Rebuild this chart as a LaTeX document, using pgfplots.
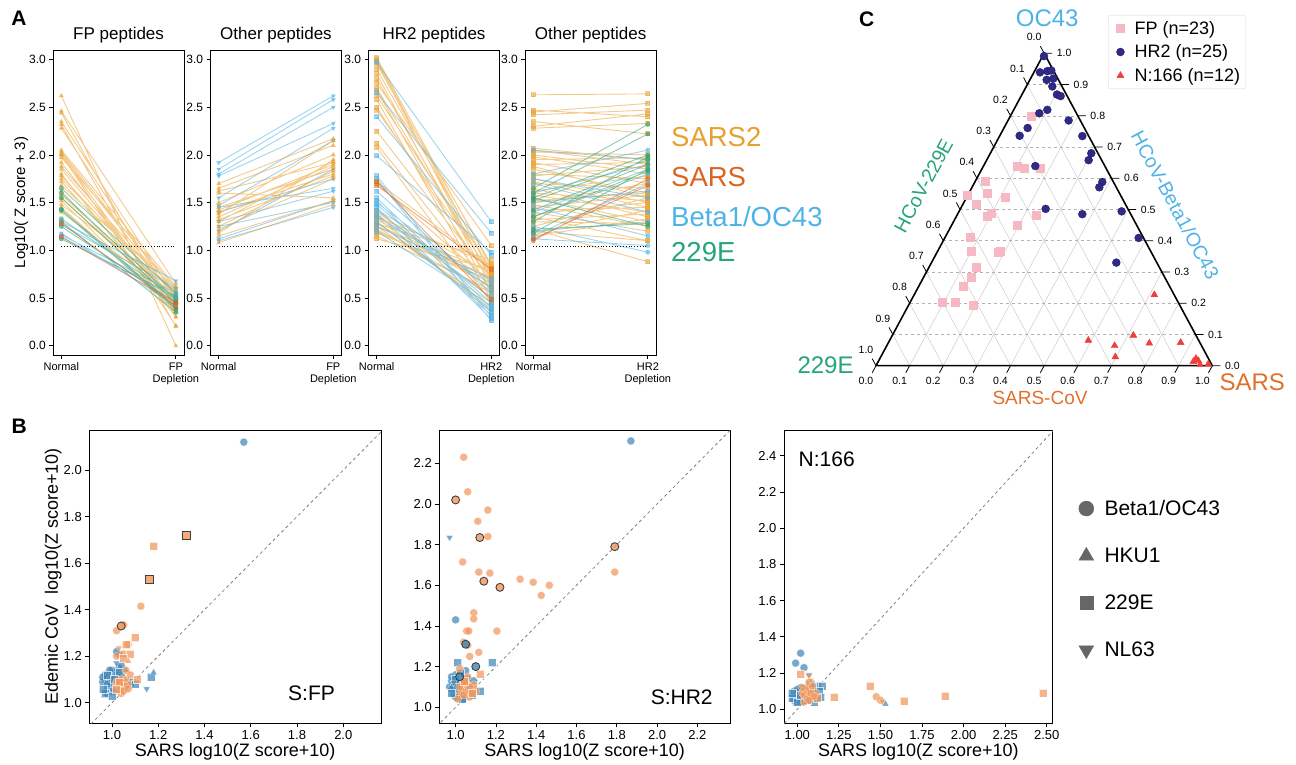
\documentclass[border=0pt]{standalone}
\usepackage{fontspec}
\setmainfont{Liberation Sans}
\usepackage{pgfplots}
\pgfplotsset{compat=1.18}
\newcommand{\fsz}[2]{\fontsize{#1}{#2}\selectfont}

\definecolor{cS2}{HTML}{E8A030}
\definecolor{cS}{HTML}{DA6420}
\definecolor{cB}{HTML}{4DB3E6}
\definecolor{cE}{HTML}{26A47A}
\definecolor{bb}{HTML}{3F86B8}
\definecolor{bo}{HTML}{F0965A}
\definecolor{fpk}{HTML}{F6B8C3}
\definecolor{hnv}{HTML}{2F2A8A}
\definecolor{ntr}{HTML}{EE3E3A}
\definecolor{cSt}{HTML}{E0702A}

\pgfplotsset{
  every axis/.append style={/pgf/number format/assume math mode=true},
  base/.style={scale only axis, anchor=south west,
    axis line style={line width=0.8pt}, tick style={line width=0.8pt, black},
    major tick length=4pt, tick align=outside, tick pos=left},
  pA/.style={base, width=130.6pt, height=305pt,
    xmin=-0.07, xmax=1.07, ymin=-0.098, ymax=3.10,
    xtick={0,1}, ytick={0,0.5,1,1.5,2,2.5,3},
    yticklabel style={font=\fsz{12}{14}, /pgf/number format/fixed,
      /pgf/number format/fixed zerofill, /pgf/number format/precision=1},
    xticklabel style={font=\fsz{11}{12}, align=center},
    title style={font=\fsz{17}{20}, yshift=-3pt},
    ylabel style={font=\fsz{15}{18}, at={(axis description cs:-0.245,0.5)}, anchor=center},
    unbounded coords=jump},
  seg/.style={line width=0.9pt, opacity=0.55, mark size=2pt},
  pB/.style={base, height=293.3pt,
    tick label style={font=\fsz{13}{15}},
    xticklabel style={/pgf/number format/fixed, /pgf/number format/fixed zerofill, /pgf/number format/precision=1},
    yticklabel style={/pgf/number format/fixed, /pgf/number format/fixed zerofill, /pgf/number format/precision=1},
    xlabel={SARS log10(Z score+10)},
    xlabel style={font=\fsz{18}{21}, at={(axis description cs:0.5,-0.097)}, anchor=center}},
  bsc/.style={only marks, mark size=4pt, mark options={draw=white, line width=0.3pt, fill opacity=0.72, draw opacity=0.7}},
  bed/.style={only marks, mark size=4pt, mark options={draw=black!75, line width=0.9pt, fill opacity=0.8}},
  diag/.style={gray, dashed, line width=0.8pt, forget plot},
}

\begin{document}
\begin{tikzpicture}
\useasboundingbox (0pt,0pt) rectangle (1296pt,764pt);

% ---------------- panel A ----------------
\node[font=\bfseries\fsz{21}{24}] at (19pt,746pt) {A};

\begin{axis}[pA, at={(53.3pt,409pt)}, title={FP peptides},
  ylabel={Log10( Z score + 3)}, xticklabels={Normal,{FP\\Depletion}}]
\addplot[seg, cS2, mark=triangle*] table[row sep=\\]{x y\\
0 2.62\\1 0.00\\nan nan\\0 2.46\\1 0.65\\nan nan\\0 2.44\\1 0.30\\nan nan\\
0 2.35\\1 0.50\\nan nan\\0 2.32\\1 0.20\\nan nan\\0 2.28\\1 0.45\\nan nan\\
0 2.05\\1 0.62\\nan nan\\0 2.03\\1 0.55\\nan nan\\0 2.01\\1 0.50\\nan nan\\
0 2.00\\1 0.35\\nan nan\\0 1.97\\1 0.60\\nan nan\\0 1.92\\1 0.40\\nan nan\\
0 1.88\\1 0.52\\nan nan\\0 1.85\\1 0.45\\nan nan\\0 1.80\\1 0.30\\nan nan\\
0 1.78\\1 0.48\\nan nan\\0 1.75\\1 0.55\\nan nan\\0 1.72\\1 0.42\\nan nan\\
0 1.68\\1 0.60\\nan nan\\0 1.62\\1 0.38\\nan nan\\0 1.58\\1 0.50\\nan nan\\
0 1.55\\1 0.45\\nan nan\\0 1.52\\1 0.35\\nan nan\\0 1.48\\1 0.58\\nan nan\\
0 1.45\\1 0.40\\nan nan\\0 1.40\\1 0.50\\nan nan\\0 2.00\\1 0.21\\nan nan\\
};
\addplot[seg, cE, mark=*] table[row sep=\\]{x y\\
0 1.65\\1 0.55\\nan nan\\0 1.60\\1 0.48\\nan nan\\0 1.55\\1 0.45\\nan nan\\
0 1.43\\1 0.40\\nan nan\\0 1.42\\1 0.38\\nan nan\\0 1.33\\1 0.50\\nan nan\\
0 1.30\\1 0.35\\nan nan\\0 1.25\\1 0.45\\nan nan\\0 1.12\\1 0.52\\nan nan\\
};
\addplot[seg, cB, mark=triangle*, every mark/.append style={rotate=180}] table[row sep=\\]{x y\\
0 1.30\\1 0.68\\nan nan\\0 1.27\\1 0.60\\nan nan\\0 1.18\\1 0.42\\nan nan\\
0 1.16\\1 0.55\\nan nan\\0 1.14\\1 0.50\\nan nan\\
};
\addplot[seg, cS, mark=square*] table[row sep=\\]{x y\\
0 1.14\\1 0.45\\nan nan\\0 1.28\\1 0.42\\nan nan\\
};
\addplot[black, dotted, line width=0.8pt] coordinates {(0,1.04)(1,1.04)};
\end{axis}

\begin{axis}[pA, at={(210.7pt,409pt)}, title={Other peptides},
  xticklabels={Normal,{FP\\Depletion}}]
\addplot[seg, cB, mark=triangle*, every mark/.append style={rotate=180}] table[row sep=\\]{x y\\
0 1.92\\1 2.62\\nan nan\\0 1.85\\1 2.58\\nan nan\\0 1.80\\1 2.50\\nan nan\\
0 1.78\\1 2.33\\nan nan\\0 1.55\\1 2.28\\nan nan\\0 1.47\\1 2.15\\nan nan\\
0 1.45\\1 1.65\\nan nan\\0 1.30\\1 1.62\\nan nan\\0 1.25\\1 1.50\\nan nan\\
0 1.12\\1 1.52\\nan nan\\0 1.10\\1 1.45\\nan nan\\0 1.20\\1 1.85\\nan nan\\
0 1.40\\1 1.75\\nan nan\\
};
\addplot[seg, cS2, mark=triangle*] table[row sep=\\]{x y\\
0 1.70\\1 2.17\\nan nan\\0 1.65\\1 2.10\\nan nan\\0 1.62\\1 1.92\\nan nan\\
0 1.60\\1 1.55\\nan nan\\0 1.50\\1 2.00\\nan nan\\0 1.45\\1 1.85\\nan nan\\
0 1.42\\1 1.90\\nan nan\\0 1.40\\1 1.80\\nan nan\\0 1.38\\1 2.15\\nan nan\\
0 1.35\\1 1.88\\nan nan\\0 1.32\\1 1.78\\nan nan\\0 1.30\\1 1.93\\nan nan\\
0 1.25\\1 1.83\\nan nan\\0 1.22\\1 1.75\\nan nan\\0 1.18\\1 1.95\\nan nan\\
0 1.15\\1 1.52\\nan nan\\0 1.08\\1 1.48\\nan nan\\
};
\addplot[black, dotted, line width=0.8pt] coordinates {(0,1.04)(1,1.04)};
\end{axis}

\begin{axis}[pA, at={(368.7pt,409pt)}, title={HR2 peptides},
  xticklabels={Normal,{HR2\\Depletion}}]
\addplot[seg, cS2, mark=square*] table[row sep=\\]{x y\\
0 3.02\\1 0.82\\nan nan\\0 3.00\\1 0.75\\nan nan\\0 2.98\\1 0.68\\nan nan\\
0 2.95\\1 0.85\\nan nan\\0 2.90\\1 0.78\\nan nan\\0 2.85\\1 0.62\\nan nan\\
0 2.80\\1 0.70\\nan nan\\0 2.75\\1 1.05\\nan nan\\0 2.70\\1 0.72\\nan nan\\
0 2.68\\1 0.55\\nan nan\\0 2.62\\1 0.80\\nan nan\\0 2.58\\1 0.48\\nan nan\\
0 2.50\\1 0.65\\nan nan\\0 2.47\\1 0.76\\nan nan\\0 2.25\\1 0.70\\nan nan\\
0 2.12\\1 0.60\\nan nan\\0 2.08\\1 0.45\\nan nan\\0 1.72\\1 0.82\\nan nan\\
0 1.70\\1 0.66\\nan nan\\0 1.42\\1 0.75\\nan nan\\0 1.40\\1 0.60\\nan nan\\
0 1.38\\1 0.50\\nan nan\\0 1.35\\1 0.85\\nan nan\\0 1.32\\1 0.70\\nan nan\\
0 1.30\\1 0.40\\nan nan\\0 1.28\\1 0.62\\nan nan\\0 1.25\\1 0.78\\nan nan\\
0 1.22\\1 0.55\\nan nan\\0 1.20\\1 0.68\\nan nan\\0 1.18\\1 0.72\\nan nan\\
0 1.15\\1 0.58\\nan nan\\0 1.12\\1 0.80\\nan nan\\0 1.35\\1 0.35\\nan nan\\
0 1.25\\1 0.45\\nan nan\\0 1.28\\1 0.90\\nan nan\\
};
\addplot[seg, cB, mark=square*] table[row sep=\\]{x y\\
0 2.97\\1 1.30\\nan nan\\0 2.65\\1 1.18\\nan nan\\0 2.40\\1 0.95\\nan nan\\
0 1.99\\1 0.98\\nan nan\\0 1.78\\1 0.30\\nan nan\\0 1.75\\1 0.26\\nan nan\\
0 1.62\\1 0.55\\nan nan\\0 1.55\\1 0.40\\nan nan\\0 1.52\\1 0.35\\nan nan\\
0 1.50\\1 0.60\\nan nan\\0 1.48\\1 0.45\\nan nan\\0 1.45\\1 0.28\\nan nan\\
0 1.42\\1 0.50\\nan nan\\0 1.38\\1 0.32\\nan nan\\0 1.35\\1 0.65\\nan nan\\
0 1.30\\1 0.38\\nan nan\\0 1.25\\1 0.70\\nan nan\\0 1.20\\1 0.42\\nan nan\\
};
\addplot[seg, cS, mark=square*] table[row sep=\\]{x y\\
0 1.72\\1 0.48\\nan nan\\0 1.68\\1 0.80\\nan nan\\
};
\addplot[black, dotted, line width=0.8pt] coordinates {(0,1.04)(1,1.04)};
\end{axis}

\begin{axis}[pA, at={(525.3pt,409pt)}, title={Other peptides},
  xticklabels={Normal,{HR2\\Depletion}}]
\addplot[seg, cS2, mark=square*] table[row sep=\\]{x y\\
0 2.63\\1 2.64\\nan nan\\0 2.47\\1 2.40\\nan nan\\0 2.45\\1 2.54\\nan nan\\
0 2.42\\1 2.47\\nan nan\\0 2.35\\1 2.22\\nan nan\\0 2.30\\1 2.43\\nan nan\\
0 2.28\\1 2.33\\nan nan\\0 2.07\\1 1.95\\nan nan\\0 2.05\\1 1.90\\nan nan\\
0 2.03\\1 2.00\\nan nan\\0 2.00\\1 1.85\\nan nan\\0 1.98\\1 1.80\\nan nan\\
0 1.95\\1 1.97\\nan nan\\0 1.92\\1 1.70\\nan nan\\0 1.90\\1 1.92\\nan nan\\
0 1.88\\1 1.55\\nan nan\\0 1.85\\1 1.60\\nan nan\\0 1.80\\1 1.75\\nan nan\\
0 1.78\\1 1.88\\nan nan\\0 1.75\\1 1.50\\nan nan\\0 1.72\\1 1.45\\nan nan\\
0 1.70\\1 1.65\\nan nan\\0 1.65\\1 1.35\\nan nan\\0 1.62\\1 1.78\\nan nan\\
0 1.60\\1 1.52\\nan nan\\0 1.58\\1 1.40\\nan nan\\0 1.55\\1 1.30\\nan nan\\
0 1.52\\1 1.60\\nan nan\\0 1.50\\1 1.70\\nan nan\\0 1.48\\1 1.25\\nan nan\\
0 1.45\\1 1.58\\nan nan\\0 1.42\\1 1.45\\nan nan\\0 1.40\\1 1.20\\nan nan\\
0 1.38\\1 1.50\\nan nan\\0 1.35\\1 1.10\\nan nan\\0 1.32\\1 1.38\\nan nan\\
0 1.30\\1 1.28\\nan nan\\0 1.25\\1 1.55\\nan nan\\0 1.22\\1 0.88\\nan nan\\
0 1.20\\1 1.10\\nan nan\\0 1.18\\1 1.42\\nan nan\\0 1.15\\1 1.33\\nan nan\\
};
\addplot[seg, cB, mark=*] table[row sep=\\]{x y\\
0 2.05\\1 1.95\\nan nan\\0 1.80\\1 2.05\\nan nan\\0 1.75\\1 1.55\\nan nan\\
0 1.70\\1 1.40\\nan nan\\0 1.60\\1 1.90\\nan nan\\0 1.50\\1 1.62\\nan nan\\
0 1.45\\1 1.15\\nan nan\\0 1.35\\1 1.80\\nan nan\\0 1.25\\1 0.98\\nan nan\\
0 1.20\\1 1.30\\nan nan\\0 1.15\\1 1.70\\nan nan\\0 1.12\\1 1.05\\nan nan\\
0 1.40\\1 1.85\\nan nan\\
};
\addplot[seg, cE, mark=*] table[row sep=\\]{x y\\
0 1.65\\1 2.32\\nan nan\\0 1.60\\1 2.22\\nan nan\\0 1.55\\1 2.00\\nan nan\\
0 1.52\\1 1.95\\nan nan\\0 1.42\\1 1.90\\nan nan\\0 1.35\\1 1.83\\nan nan\\
0 1.30\\1 1.98\\nan nan\\0 1.22\\1 1.28\\nan nan\\0 1.55\\1 1.25\\nan nan\\
0 1.18\\1 1.85\\nan nan\\
};
\addplot[seg, cS, mark=*] table[row sep=\\]{x y\\
0 1.12\\1 1.68\\nan nan\\0 1.10\\1 1.75\\nan nan\\
};
\addplot[black, dotted, line width=0.8pt] coordinates {(0,1.04)(1,1.04)};
\end{axis}

\node[anchor=west, inner sep=0pt, font=\fsz{27.5}{30}, text=cS2] at (671pt,627.3pt) {SARS2};
\node[anchor=west, inner sep=0pt, font=\fsz{27.5}{30}, text=cS] at (671pt,587.3pt) {SARS};
\node[anchor=west, inner sep=0pt, font=\fsz{27.5}{30}, text=cB] at (671pt,547.3pt) {Beta1/OC43};
\node[anchor=west, inner sep=0pt, font=\fsz{27.5}{30}, text=cE] at (671pt,512.3pt) {229E};

% ---------------- panel C ----------------
\node[font=\bfseries\fsz{21}{24}] at (866.7pt,744.7pt) {C};

\begin{axis}[scale only axis, anchor=south west, at={(876pt,398.3pt)},
  width=336.3pt, height=312.4pt, xmin=0, xmax=1, ymin=0, ymax=1,
  axis lines=none, clip=false, unbounded coords=jump,
  legend style={at={(0.69,1.1226)}, anchor=north west, draw=black!15,
    rounded corners=2pt, font=\fsz{18}{20}, row sep=5pt, inner ysep=4pt},
  legend image code/.code={\path (-9pt,0pt) (12pt,0pt); \draw[#1] plot coordinates {(0pt,0pt)};},
  legend cell align=left]
% grid: SARS and 229E iso-lines
\addplot[forget plot, black!20, line width=0.5pt] table[row sep=\\]{x y\\
0.1 0\\0.55 0.9\\nan nan\\0.2 0\\0.6 0.8\\nan nan\\0.3 0\\0.65 0.7\\nan nan\\
0.4 0\\0.7 0.6\\nan nan\\0.5 0\\0.75 0.5\\nan nan\\0.6 0\\0.8 0.4\\nan nan\\
0.7 0\\0.85 0.3\\nan nan\\0.8 0\\0.9 0.2\\nan nan\\0.9 0\\0.95 0.1\\nan nan\\
0.1 0\\0.05 0.1\\nan nan\\0.2 0\\0.1 0.2\\nan nan\\0.3 0\\0.15 0.3\\nan nan\\
0.4 0\\0.2 0.4\\nan nan\\0.5 0\\0.25 0.5\\nan nan\\0.6 0\\0.3 0.6\\nan nan\\
0.7 0\\0.35 0.7\\nan nan\\0.8 0\\0.4 0.8\\nan nan\\0.9 0\\0.45 0.9\\nan nan\\
};
% grid: OC43 iso-lines (dashed)
\addplot[forget plot, black!30, dashed, line width=0.5pt] table[row sep=\\]{x y\\
0.05 0.1\\0.95 0.1\\nan nan\\0.1 0.2\\0.9 0.2\\nan nan\\0.15 0.3\\0.85 0.3\\nan nan\\
0.2 0.4\\0.8 0.4\\nan nan\\0.25 0.5\\0.75 0.5\\nan nan\\0.3 0.6\\0.7 0.6\\nan nan\\
0.35 0.7\\0.65 0.7\\nan nan\\0.4 0.8\\0.6 0.8\\nan nan\\0.45 0.9\\0.55 0.9\\nan nan\\
};
% ticks
\addplot[forget plot, black, line width=0.8pt] table[row sep=\\]{x y\\
0 0\\-0.0113 -0.0226\\nan nan\\0.1 0\\0.0887 -0.0226\\nan nan\\0.2 0\\0.1887 -0.0226\\nan nan\\
0.3 0\\0.2887 -0.0226\\nan nan\\0.4 0\\0.3887 -0.0226\\nan nan\\0.5 0\\0.4887 -0.0226\\nan nan\\
0.6 0\\0.5887 -0.0226\\nan nan\\0.7 0\\0.6887 -0.0226\\nan nan\\0.8 0\\0.7887 -0.0226\\nan nan\\
0.9 0\\0.8887 -0.0226\\nan nan\\1 0\\0.9887 -0.0226\\nan nan\\
1 0\\1.0238 0\\nan nan\\0.95 0.1\\0.9738 0.1\\nan nan\\0.9 0.2\\0.9238 0.2\\nan nan\\
0.85 0.3\\0.8738 0.3\\nan nan\\0.8 0.4\\0.8238 0.4\\nan nan\\0.75 0.5\\0.7738 0.5\\nan nan\\
0.7 0.6\\0.7238 0.6\\nan nan\\0.65 0.7\\0.6738 0.7\\nan nan\\0.6 0.8\\0.6238 0.8\\nan nan\\
0.55 0.9\\0.5738 0.9\\nan nan\\0.5 1\\0.5238 1\\nan nan\\
0.5 1\\0.4887 1.0226\\nan nan\\0.45 0.9\\0.4387 0.9226\\nan nan\\0.4 0.8\\0.3887 0.8226\\nan nan\\
0.35 0.7\\0.3387 0.7226\\nan nan\\0.3 0.6\\0.2887 0.6226\\nan nan\\0.25 0.5\\0.2387 0.5226\\nan nan\\
0.2 0.4\\0.1887 0.4226\\nan nan\\0.15 0.3\\0.1387 0.3226\\nan nan\\0.1 0.2\\0.0887 0.2226\\nan nan\\
0.05 0.1\\0.0387 0.1226\\nan nan\\0 0\\-0.0113 0.0226\\nan nan\\
};
\addplot[forget plot, black, line width=1.6pt, line join=round] coordinates {(0,0)(1,0)(0.5,1)(0,0)};
% data (cartesian position in the triangle)
\addplot[only marks, mark=square*, mark size=4pt, color=fpk] table[row sep=\\]{x y\\
0.4618 0.798\\0.4212 0.639\\0.4410 0.632\\0.4876 0.632\\0.3241 0.589\\0.2725 0.546\\
0.3300 0.551\\0.3835 0.540\\0.2993 0.517\\0.3320 0.480\\0.3419 0.488\\0.4777 0.482\\
0.4212 0.450\\0.2795 0.412\\0.2844 0.368\\0.3627 0.363\\0.3697 0.365\\0.2973 0.316\\
0.2825 0.284\\0.2607 0.255\\0.1972 0.203\\0.2359 0.203\\0.2884 0.195\\
};
\addlegendentry{FP (n=23)}
\addplot[only marks, mark=*, mark size=4pt, color=hnv, mark options={draw=hnv!60!black, line width=0.3pt}] table[row sep=\\]{x y\\
0.4995 0.991\\0.4876 0.939\\0.5094 0.943\\0.5213 0.945\\0.5074 0.915\\0.5273 0.919\\
0.5243 0.894\\0.5380 0.868\\0.5490 0.863\\0.4856 0.808\\0.5094 0.819\\0.5728 0.785\\
0.4509 0.761\\0.4272 0.736\\0.6135 0.735\\0.6402 0.680\\0.6323 0.658\\0.4737 0.639\\
0.6729 0.588\\0.6640 0.571\\0.5045 0.502\\0.6135 0.485\\0.7304 0.494\\0.7810 0.409\\
0.7146 0.330\\
};
\addlegendentry{HR2 (n=25)}
\addplot[only marks, mark=triangle*, mark size=4pt, color=ntr] table[row sep=\\]{x y\\
0.8276 0.227\\0.7651 0.097\\0.6313 0.081\\0.7096 0.064\\0.8127 0.072\\0.9058 0.074\\
0.7116 0.028\\0.9514 0.023\\0.9584 0.016\\0.9633 0.004\\0.9435 0.013\\0.9880 0.005\\
};
\addlegendentry{N:166 (n=12)}
% tick labels
\node[font=\fsz{10.5}{12}, xshift=-10pt, yshift=-15pt] at (axis cs:0,0) {0.0};
\node[font=\fsz{10.5}{12}, xshift=-10pt, yshift=-15pt] at (axis cs:0.1,0) {0.1};
\node[font=\fsz{10.5}{12}, xshift=-10pt, yshift=-15pt] at (axis cs:0.2,0) {0.2};
\node[font=\fsz{10.5}{12}, xshift=-10pt, yshift=-15pt] at (axis cs:0.3,0) {0.3};
\node[font=\fsz{10.5}{12}, xshift=-10pt, yshift=-15pt] at (axis cs:0.4,0) {0.4};
\node[font=\fsz{10.5}{12}, xshift=-10pt, yshift=-15pt] at (axis cs:0.5,0) {0.5};
\node[font=\fsz{10.5}{12}, xshift=-10pt, yshift=-15pt] at (axis cs:0.6,0) {0.6};
\node[font=\fsz{10.5}{12}, xshift=-10pt, yshift=-15pt] at (axis cs:0.7,0) {0.7};
\node[font=\fsz{10.5}{12}, xshift=-10pt, yshift=-15pt] at (axis cs:0.8,0) {0.8};
\node[font=\fsz{10.5}{12}, xshift=-10pt, yshift=-15pt] at (axis cs:0.9,0) {0.9};
\node[font=\fsz{10.5}{12}, xshift=-10pt, yshift=-15pt] at (axis cs:1,0) {1.0};
\node[font=\fsz{10.5}{12}, xshift=20pt] at (axis cs:1,0) {0.0};
\node[font=\fsz{10.5}{12}, xshift=20pt] at (axis cs:0.95,0.1) {0.1};
\node[font=\fsz{10.5}{12}, xshift=20pt] at (axis cs:0.9,0.2) {0.2};
\node[font=\fsz{10.5}{12}, xshift=20pt] at (axis cs:0.85,0.3) {0.3};
\node[font=\fsz{10.5}{12}, xshift=20pt] at (axis cs:0.8,0.4) {0.4};
\node[font=\fsz{10.5}{12}, xshift=20pt] at (axis cs:0.75,0.5) {0.5};
\node[font=\fsz{10.5}{12}, xshift=20pt] at (axis cs:0.7,0.6) {0.6};
\node[font=\fsz{10.5}{12}, xshift=20pt] at (axis cs:0.65,0.7) {0.7};
\node[font=\fsz{10.5}{12}, xshift=20pt] at (axis cs:0.6,0.8) {0.8};
\node[font=\fsz{10.5}{12}, xshift=20pt] at (axis cs:0.55,0.9) {0.9};
\node[font=\fsz{10.5}{12}, xshift=20pt] at (axis cs:0.5,1) {1.0};
\node[font=\fsz{10.5}{12}, xshift=-10pt, yshift=16pt] at (axis cs:0.5,1) {0.0};
\node[font=\fsz{10.5}{12}, xshift=-10pt, yshift=16pt] at (axis cs:0.45,0.9) {0.1};
\node[font=\fsz{10.5}{12}, xshift=-10pt, yshift=16pt] at (axis cs:0.4,0.8) {0.2};
\node[font=\fsz{10.5}{12}, xshift=-10pt, yshift=16pt] at (axis cs:0.35,0.7) {0.3};
\node[font=\fsz{10.5}{12}, xshift=-10pt, yshift=16pt] at (axis cs:0.3,0.6) {0.4};
\node[font=\fsz{10.5}{12}, xshift=-10pt, yshift=16pt] at (axis cs:0.25,0.5) {0.5};
\node[font=\fsz{10.5}{12}, xshift=-10pt, yshift=16pt] at (axis cs:0.2,0.4) {0.6};
\node[font=\fsz{10.5}{12}, xshift=-10pt, yshift=16pt] at (axis cs:0.15,0.3) {0.7};
\node[font=\fsz{10.5}{12}, xshift=-10pt, yshift=16pt] at (axis cs:0.1,0.2) {0.8};
\node[font=\fsz{10.5}{12}, xshift=-10pt, yshift=16pt] at (axis cs:0.05,0.1) {0.9};
\node[font=\fsz{10.5}{12}, xshift=-10pt, yshift=16pt] at (axis cs:0,0) {1.0};
% axis titles
\node[font=\fsz{24}{26}, text=cB] at (axis cs:0.509,1.112) {OC43};
\node[font=\fsz{24}{26}, text=cE] at (axis cs:-0.150,0.0) {229E};
\node[font=\fsz{24}{26}, text=cSt] at (axis cs:1.119,-0.054) {SARS};
\node[font=\fsz{19}{21}, text=cSt] at (axis cs:0.4877,-0.104) {SARS-CoV};
\node[font=\fsz{19.5}{21}, text=cE, rotate=61.8] at (axis cs:0.141,0.576) {HCoV-229E};
\node[font=\fsz{19.5}{21}, text=cB, rotate=-61.8] at (axis cs:0.890,0.514) {HCoV-Beta1/OC43};
\end{axis}

% ---------------- panel B ----------------
\node[font=\bfseries\fsz{21}{24}] at (19.3pt,337.3pt) {B};

\begin{axis}[pB, at={(89.3pt,40.7pt)}, width=291.7pt,
  xmin=0.902, xmax=2.163, ymin=0.912, ymax=2.172,
  xtick={1.0,1.2,1.4,1.6,1.8,2.0}, ytick={1.0,1.2,1.4,1.6,1.8,2.0},
  ylabel={Edemic CoV\ \ log10(Z score+10)},
  ylabel style={font=\fsz{18}{21}, at={(axis description cs:-0.124,0.5)}, anchor=center}]
\addplot[diag] coordinates {(0.8,0.8)(2.6,2.6)};
\addplot[bsc, color=bb, mark=*] coordinates {
(0.97,1.10)(0.99,1.12)(1.00,1.08)(1.01,1.13)(0.98,1.06)(1.02,1.10)(1.03,1.15)
(1.00,1.14)(0.96,1.09)(1.04,1.12)(1.01,1.05)(0.99,1.09)(1.05,1.10)(1.02,1.07)
(1.03,1.21)(1.02,1.22)(1.57,2.12)(1.00,1.11)(1.04,1.16)
(0.98,1.08)(1.00,1.10)(1.01,1.08)(0.97,1.12)(0.99,1.14)(1.02,1.12)(1.00,1.05)
(0.98,1.04)(1.03,1.11)(0.96,1.11)};
\addplot[bsc, color=bb, mark=square*] coordinates {
(0.97,1.04)(0.96,1.06)(1.00,1.03)(1.03,1.13)(1.06,1.08)(1.08,1.09)(1.10,1.08)
(1.17,1.11)(0.98,1.12)(1.04,1.08)(1.01,1.10)};
\addplot[bsc, color=bb, mark=triangle*] coordinates {(1.18,1.13)(1.05,1.11)(1.06,1.14)};
\addplot[bsc, color=bb, mark=triangle*, every mark/.append style={rotate=180}] coordinates {(1.15,1.06)(1.02,1.17)};
\addplot[bsc, color=bo, mark=*] coordinates {
(1.125,1.415)(1.05,1.335)(1.02,1.31)(1.07,1.25)(1.05,1.21)(1.02,1.20)(1.06,1.14)
(1.04,1.09)(1.03,1.07)(1.05,1.06)(1.04,1.04)(1.06,1.10)(1.02,1.08)(1.08,1.12)
(1.03,1.05)(1.07,1.08)(1.04,1.07)(1.05,1.09)(1.03,1.08)(1.06,1.07)(1.04,1.10)
(1.02,1.09)(1.05,1.05)(1.07,1.06)};
\addplot[bsc, color=bo, mark=square*] coordinates {
(1.18,1.675)(1.10,1.28)(1.06,1.25)(1.08,1.21)(1.05,1.19)(1.03,1.09)(1.11,1.10)(1.02,1.06)};
\addplot[bsc, color=bo, mark=triangle*] coordinates {(1.07,1.18)(1.06,1.10)};
\addplot[bsc, color=bo, mark=triangle*, every mark/.append style={rotate=180}] coordinates {(1.03,1.235)};
\addplot[bed, color=bo, mark=square*] coordinates {(1.32,1.72)(1.16,1.53)};
\addplot[bed, color=bo, mark=*] coordinates {(1.04,1.33)};
\node[font=\fsz{21}{24}] at (axis description cs:0.762,0.103) {S:FP};
\end{axis}

\begin{axis}[pB, at={(439.3pt,40.7pt)}, width=290.7pt,
  xmin=0.919, xmax=2.362, ymin=0.921, ymax=2.364,
  xtick={1.0,1.2,1.4,1.6,1.8,2.0,2.2}, ytick={1.0,1.2,1.4,1.6,1.8,2.0,2.2}]
\addplot[diag] coordinates {(0.8,0.8)(2.6,2.6)};
\addplot[bsc, color=bb, mark=*] coordinates {
(1.87,2.31)(1.00,1.43)(0.97,1.10)(0.98,1.13)(1.00,1.08)(1.01,1.05)(1.02,1.10)
(1.04,1.04)(0.99,1.06)(1.03,1.12)(1.05,1.18)(1.06,1.14)(1.08,1.09)(1.00,1.16)
(1.03,1.06)(1.09,1.13)(1.01,1.12)(0.99,1.10)(1.00,1.12)(1.01,1.07)(0.98,1.09)
(1.02,1.08)(1.03,1.14)(1.00,1.05)(1.04,1.06)(1.01,1.10)(0.98,1.15)};
\addplot[bsc, color=bb, mark=square*] coordinates {
(1.18,1.22)(1.01,1.22)(1.12,1.08)(1.03,1.04)(0.98,1.07)(1.05,1.10)(1.08,1.06)
(1.02,1.17)(1.00,1.14)};
\addplot[bsc, color=bb, mark=triangle*, every mark/.append style={rotate=180}] coordinates {(0.97,1.835)(0.99,1.12)};
\addplot[bsc, color=bb, mark=triangle*] coordinates {(1.04,1.08)};
\addplot[bsc, color=bo, mark=*] coordinates {
(1.04,2.23)(1.06,2.06)(1.16,1.97)(1.11,1.915)(1.16,1.84)(1.035,1.715)(1.115,1.665)
(1.17,1.66)(1.32,1.63)(1.385,1.615)(1.465,1.60)(1.425,1.55)(1.79,1.665)(1.09,1.465)
(1.09,1.435)(1.055,1.375)(1.065,1.375)(1.205,1.375)(1.04,1.32)(1.06,1.305)(1.07,1.25)
(1.115,1.27)(1.02,1.19)(1.06,1.15)(1.03,1.10)(1.05,1.07)(1.07,1.05)(1.04,1.12)
(1.08,1.09)(1.10,1.08)(1.02,1.06)(1.06,1.10)(1.09,1.11)(1.01,1.04)
(1.03,1.08)(1.05,1.12)(1.02,1.10)(1.06,1.08)(1.04,1.06)(1.07,1.10)(1.08,1.07)};
\addplot[bsc, color=bo, mark=square*] coordinates {(1.12,1.165)(1.08,1.07)(1.04,1.13)};
\addplot[bed, color=bo, mark=*] coordinates {(1.00,2.02)(1.12,1.835)(1.14,1.62)(1.22,1.59)(1.79,1.79)};
\addplot[bed, color=bb, mark=*] coordinates {(1.05,1.31)(1.10,1.20)(1.02,1.15)};
\node[font=\fsz{21}{24}] at (axis description cs:0.834,0.090) {S:HR2};
\end{axis}

\begin{axis}[pB, at={(784pt,40.7pt)}, width=268.7pt,
  xmin=0.92, xmax=2.536, ymin=0.923, ymax=2.542,
  xtick={1.0,1.25,1.5,1.75,2.0,2.25,2.5}, ytick={1.0,1.2,1.4,1.6,1.8,2.0,2.2,2.4},
  xticklabel style={/pgf/number format/precision=2},
  legend style={at={(1.079,0.775)}, anchor=north west, draw=none, fill=none,
    font=\fsz{21}{24}, row sep=27pt},
  legend image code/.code={\path (-9pt,0pt) (16pt,0pt); \draw[#1] plot coordinates {(0pt,0pt)};},
  legend cell align=left]
\addlegendimage{only marks, mark=*, mark size=7.5pt, color=black!60}
\addlegendentry{Beta1/OC43}
\addlegendimage{only marks, mark=triangle*, mark size=8.5pt, color=black!60}
\addlegendentry{HKU1}
\addlegendimage{only marks, mark=square*, mark size=6.5pt, color=black!60}
\addlegendentry{229E}
\addlegendimage{only marks, mark=triangle*, mark size=8.5pt, color=black!60, every mark/.append style={rotate=180}}
\addlegendentry{NL63}
\addplot[diag] coordinates {(0.8,0.8)(2.6,2.6)};
\addplot[bsc, color=bb, mark=*] coordinates {
(1.02,1.31)(0.99,1.255)(1.04,1.23)(0.98,1.10)(1.00,1.07)(1.02,1.12)(1.05,1.05)
(1.03,1.09)(0.99,1.04)(1.06,1.11)(1.08,1.08)(1.01,1.06)(0.99,1.08)(1.01,1.10)
(1.03,1.06)(1.05,1.09)(0.98,1.05)(1.00,1.11)(1.04,1.07)(1.07,1.10)(1.11,1.06)(1.02,1.04)};
\addplot[bsc, color=bb, mark=square*] coordinates {
(0.97,1.06)(0.97,1.09)(1.00,1.04)(1.10,1.04)(1.12,1.13)(1.15,1.13)(1.13,1.10)
(1.09,1.12)(1.06,1.05)(1.04,1.10)(1.14,1.07)(1.08,1.14)(1.02,1.08)};
\addplot[bsc, color=bb, mark=triangle*] coordinates {(1.53,1.03)(1.05,1.12)};
\addplot[bsc, color=bb, mark=triangle*, every mark/.append style={rotate=180}] coordinates {(1.07,1.19)(1.10,1.10)};
\addplot[bsc, color=bo, mark=square*] coordinates {
(1.02,1.195)(1.44,1.13)(1.22,1.07)(1.64,1.045)(1.89,1.075)(2.48,1.09)(1.05,1.08)
(1.12,1.06)(1.08,1.10)};
\addplot[bsc, color=bo, mark=*] coordinates {
(1.475,1.07)(1.50,1.05)(1.04,1.04)(1.06,1.12)(1.03,1.09)(1.09,1.07)(1.07,1.15)(1.11,1.09)
(1.04,1.08)(1.06,1.06)(1.05,1.11)(1.08,1.09)(1.10,1.07)(1.03,1.12)(1.07,1.05)(1.09,1.13)};
\addplot[bsc, color=bo, mark=triangle*, every mark/.append style={rotate=180}] coordinates {(1.07,1.185)(1.51,1.045)(1.08,1.16)};
\node[font=\fsz{21}{24}] at (axis description cs:0.159,0.901) {N:166};
\end{axis}

\end{tikzpicture}
\end{document}
